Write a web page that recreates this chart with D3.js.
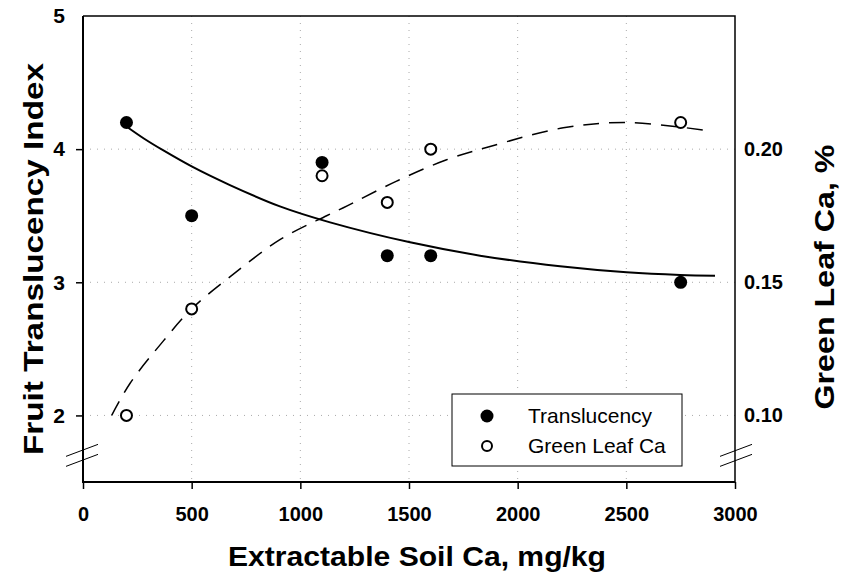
<!DOCTYPE html>
<html>
<head>
<meta charset="utf-8">
<script src="https://cdn.jsdelivr.net/npm/d3@7"></script>
<style>
	body { margin: 0; background: #fff; }
	text { font-family: "Liberation Sans", Arial, Helvetica, sans-serif; }
</style>
</head>
<body>
<svg id="chart" width="844" height="576"></svg>
<script>
const soilCa = [200, 500, 1100, 1400, 1600, 2750];
const translucency = [4.2, 3.5, 3.9, 3.2, 3.2, 3.0];
const leafCa = [0.10, 0.14, 0.19, 0.18, 0.20, 0.21];

// fitted curves
const fitTransX = [200, 280, 370, 500, 676, 906, 1137, 1505, 1827, 2195, 2501, 2747, 2908];
const fitTransY = [4.17, 4.08, 3.99, 3.87, 3.73, 3.57, 3.45, 3.30, 3.20, 3.12, 3.075, 3.055, 3.05];
const fitLeafX = [132, 216, 370, 500, 676, 906, 1121, 1198, 1443, 1673, 1873, 2210, 2502, 2870];
const fitLeafY = [0.100, 0.112, 0.128, 0.140, 0.152, 0.166, 0.175, 0.178, 0.188, 0.196, 0.201, 0.208, 0.210, 0.207];

const xTicks = [0, 500, 1000, 1500, 2000, 2500, 3000];
const yTicks = [2, 3, 4, 5];
const y2Ticks = [0.10, 0.15, 0.20];
const xGrid = [500, 1000, 1500, 2000, 2500];
const yGrid = [2, 3, 4];

const padL = 83, padR = 735, padT = 16, padB = 482;
const font = "Liberation Sans, Arial, sans-serif";

const svg = d3.select("#chart");
const x = d3.scaleLinear().domain([0, 3000]).range([padL, padR]);
const y = d3.scaleLinear().domain([1.5, 5]).range([padB, padT]);
const y2 = d3.scaleLinear().domain([0.075, 0.25]).range([padB, padT]);

// grid
svg.append("g").selectAll("line")
	.data(xGrid).enter().append("line")
	.attr("x1", d => x(d)).attr("x2", d => x(d))
	.attr("y1", padT).attr("y2", padB)
	.attr("stroke", "#aaa").attr("stroke-dasharray", "1,6");
svg.append("g").selectAll("line")
	.data(yGrid).enter().append("line")
	.attr("x1", padL).attr("x2", padR)
	.attr("y1", d => y(d)).attr("y2", d => y(d))
	.attr("stroke", "#aaa").attr("stroke-dasharray", "1,6");

// frame
svg.append("path")
	.attr("d", `M${padR},${padB}V${padT}H${padL}`)
	.attr("fill", "none").attr("stroke", "#000").attr("stroke-width", 1.5);
svg.append("path")
	.attr("d", `M${padL},${padT}V${padB}H${padR}`)
	.attr("fill", "none").attr("stroke", "#000").attr("stroke-width", 2);

// x axis
const xAxis = svg.append("g").attr("transform", `translate(0,${padB})`)
	.call(d3.axisBottom(x).tickValues(xTicks).tickSize(7).tickPadding(18).tickFormat(d3.format("d")));
xAxis.select(".domain").remove();
xAxis.selectAll("line").attr("stroke-width", 1.5);
xAxis.selectAll("text").attr("font-size", 20).attr("font-weight", "bold").attr("font-family", font);

// left axis
const yAxis = svg.append("g").attr("transform", `translate(${padL},0)`)
	.call(d3.axisLeft(y).tickValues(yTicks).tickSize(7).tickPadding(11).tickFormat(d3.format("d")));
yAxis.select(".domain").remove();
yAxis.selectAll("line").attr("stroke-width", 1.5).attr("opacity", d => d === 5 ? 0 : 1);
yAxis.selectAll("text").attr("font-size", 21).attr("font-weight", "bold").attr("font-family", font);

// right axis
const y2Axis = svg.append("g").attr("transform", `translate(${padR},0)`)
	.call(d3.axisRight(y2).tickValues(y2Ticks).tickSize(0).tickPadding(9).tickFormat(d3.format(".2f")));
y2Axis.select(".domain").remove();
y2Axis.selectAll("text").attr("font-size", 20).attr("font-weight", "bold").attr("font-family", font);

// axis breaks
function brk(cx, cy) {
	[-5, 5].forEach(off => {
		svg.append("line")
			.attr("x1", cx - 16).attr("y1", cy + off + 6)
			.attr("x2", cx + 16).attr("y2", cy + off - 6)
			.attr("stroke", "#000").attr("stroke-width", 1);
	});
}
brk(x(0) - 1, y(1.7));
brk(x(3000) + 1, y(1.7));

// fitted lines
const line = d3.line().curve(d3.curveCatmullRom);
svg.append("path")
	.attr("d", line(fitTransX.map((d, i) => [x(d), y(fitTransY[i])])))
	.attr("fill", "none").attr("stroke", "#000").attr("stroke-width", 2);
svg.append("path")
	.attr("d", line(fitLeafX.map((d, i) => [x(d), y2(fitLeafY[i])])))
	.attr("fill", "none").attr("stroke", "#000").attr("stroke-width", 1.5)
	.attr("stroke-dasharray", "16,10");

// points
svg.append("g").selectAll("circle")
	.data(soilCa).enter().append("circle")
	.attr("cx", d => x(d)).attr("cy", (d, i) => y(translucency[i]))
	.attr("r", 6.5).attr("fill", "#000");
svg.append("g").selectAll("circle")
	.data(soilCa).enter().append("circle")
	.attr("cx", d => x(d)).attr("cy", (d, i) => y2(leafCa[i]))
	.attr("r", 5.5).attr("fill", "#fff").attr("stroke", "#000").attr("stroke-width", 2);

// legend
const lg = svg.append("g").attr("transform", "translate(452,394)");
lg.append("rect").attr("width", 230).attr("height", 72)
	.attr("fill", "#fff").attr("stroke", "#000").attr("stroke-width", 1);
lg.append("circle").attr("cx", 35).attr("cy", 22).attr("r", 6.5).attr("fill", "#000");
lg.append("circle").attr("cx", 35).attr("cy", 52).attr("r", 5).attr("fill", "#fff")
	.attr("stroke", "#000").attr("stroke-width", 2);
lg.append("text").attr("x", 76).attr("y", 29).attr("font-size", 21).text("Translucency");
lg.append("text").attr("x", 76).attr("y", 59).attr("font-size", 21).text("Green Leaf Ca");

// titles
svg.append("text")
	.attr("x", 417).attr("y", 566)
	.attr("text-anchor", "middle").attr("font-size", 28).attr("font-weight", "bold")
	.attr("textLength", 378).attr("lengthAdjust", "spacingAndGlyphs")
	.text("Extractable Soil Ca, mg/kg");
svg.append("text")
	.attr("transform", `translate(43,259) rotate(-90)`)
	.attr("text-anchor", "middle").attr("font-size", 28).attr("font-weight", "bold")
	.attr("textLength", 392).attr("lengthAdjust", "spacingAndGlyphs")
	.text("Fruit Translucency Index");
svg.append("text")
	.attr("transform", `translate(834,277) rotate(-90)`)
	.attr("text-anchor", "middle").attr("font-size", 28).attr("font-weight", "bold")
	.attr("textLength", 265).attr("lengthAdjust", "spacingAndGlyphs")
	.text("Green Leaf Ca, %");
</script>
</body>
</html>
